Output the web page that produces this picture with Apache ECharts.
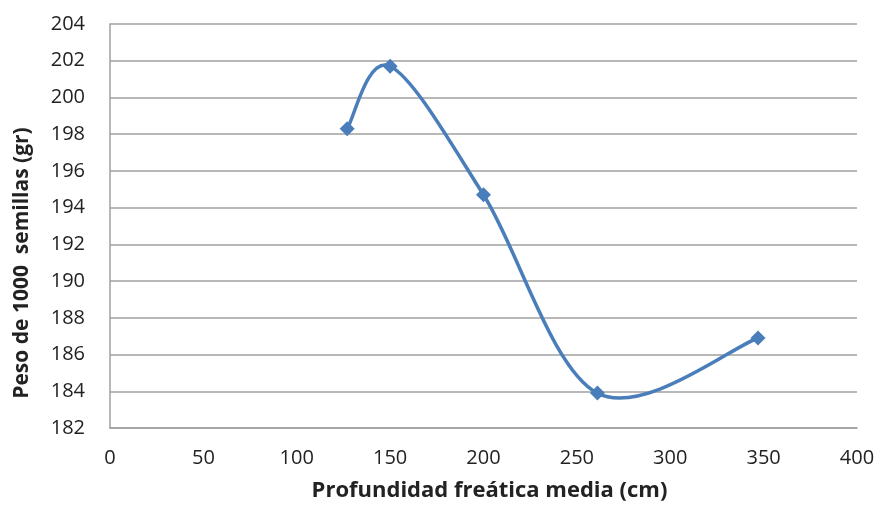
<!DOCTYPE html>
<html>
<head>
<meta charset="utf-8">
<script src="https://cdn.jsdelivr.net/npm/echarts@6/dist/echarts.min.js"></script>
<style>
  html, body { margin: 0; padding: 0; background: #fff; }
  #chart { width: 883px; height: 507px; }
</style>
</head>
<body>
<div id="chart"></div>
<script>
// Water-table depth (cm) vs. 1000-seed weight (g)
const depthCm = [127, 150, 200, 261, 347];
const seedWeight = [198.3, 201.7, 194.7, 183.9, 186.9];

const xTitle = 'Profundidad freática media (cm)';
const yTitle = 'Peso de 1000  semillas (gr)';

const points = depthCm.map((d, i) => [d, seedWeight[i]]);
const lineColor = '#4a7ebb';

// Smoothed connector: one cubic Bezier per segment, tangents from the
// neighbouring points (Catmull-Rom style, 1/6 tension), computed in pixel space.
function renderSegment(params, api) {
  const i = params.dataIndex;
  const n = points.length;
  if (i >= n - 1) return null;
  const P = points.map(p => api.coord(p));
  const p0 = P[Math.max(i - 1, 0)];
  const p1 = P[i];
  const p2 = P[i + 1];
  const p3 = P[Math.min(i + 2, n - 1)];
  const k = 1 / 6;
  return {
    type: 'bezierCurve',
    shape: {
      x1: p1[0], y1: p1[1],
      x2: p2[0], y2: p2[1],
      cpx1: p1[0] + (p2[0] - p0[0]) * k,
      cpy1: p1[1] + (p2[1] - p0[1]) * k,
      cpx2: p2[0] - (p3[0] - p1[0]) * k,
      cpy2: p2[1] - (p3[1] - p1[1]) * k
    },
    style: { stroke: lineColor, lineWidth: 3.5, fill: null, lineCap: 'round' }
  };
}

const chart = echarts.init(document.getElementById('chart'));
const font = 'Open Sans, Lato, sans-serif';
chart.setOption({
  animation: false,
  backgroundColor: '#ffffff',
  grid: { left: 110, right: 26, top: 24, bottom: 75, containLabel: false },
  xAxis: {
    type: 'value',
    min: 0, max: 400, interval: 50,
    name: xTitle,
    nameLocation: 'middle',
    nameGap: 52,
    nameTextStyle: {
      fontFamily: font, fontSize: 22, fontWeight: 'bold', color: '#222',
      padding: [0, 0, 0, 12]
    },
    axisLine: { show: true, lineStyle: { color: '#a0a0a0', width: 1.5 } },
    axisTick: { show: false },
    axisLabel: { fontFamily: font, fontSize: 20, color: '#222', margin: 20 },
    splitLine: { show: false }
  },
  yAxis: {
    type: 'value',
    min: 182, max: 204, interval: 2,
    name: yTitle,
    nameLocation: 'middle',
    nameGap: 77,
    nameRotate: 90,
    nameTextStyle: {
      fontFamily: font, fontSize: 21, fontWeight: 'bold', color: '#222',
      padding: [0, 74, 0, 0]
    },
    axisLine: { show: true, lineStyle: { color: '#a0a0a0', width: 1.5 } },
    axisTick: { show: false },
    axisLabel: { fontFamily: font, fontSize: 20, color: '#222', margin: 25 },
    splitLine: { show: true, lineStyle: { color: '#a0a0a0', width: 1.5 } }
  },
  series: [
    {
      type: 'custom',
      data: points,
      renderItem: renderSegment,
      z: 2
    },
    {
      type: 'scatter',
      data: points,
      symbol: 'diamond',
      symbolSize: 15,
      itemStyle: { color: lineColor, opacity: 1 },
      z: 3
    }
  ]
});
</script>
</body>
</html>
